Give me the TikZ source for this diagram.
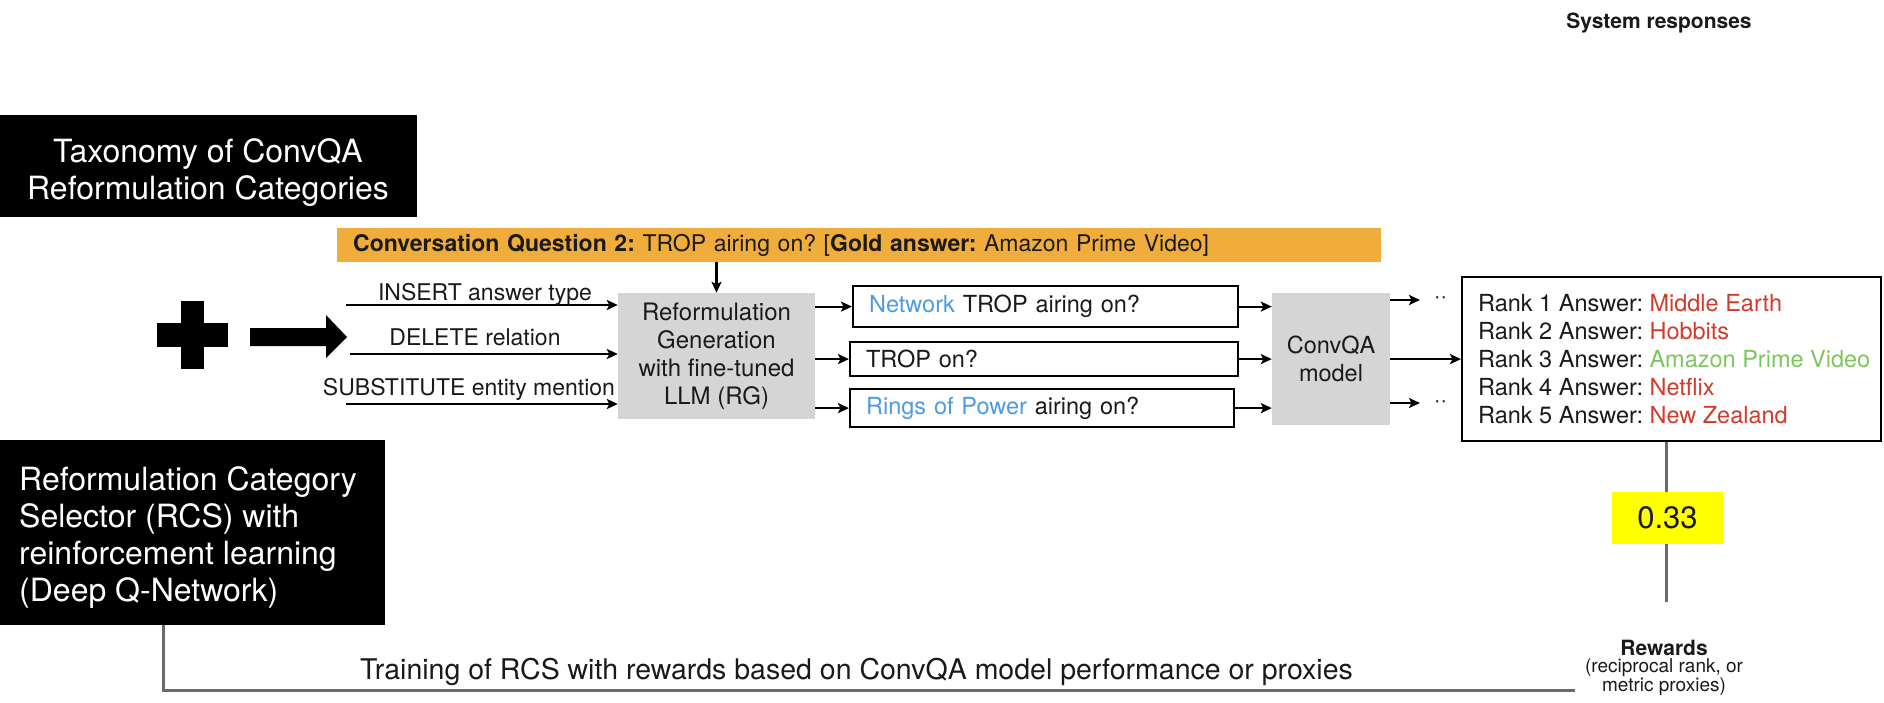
\documentclass[tikz,border=0pt]{standalone}
\usepackage{fontspec}
\setmainfont{TeX Gyre Heros}
\usetikzlibrary{arrows.meta}

\definecolor{barorange}{HTML}{F0AD3C}
\definecolor{boxgray}{HTML}{D5D5D5}
\definecolor{linkgray}{HTML}{6A6A6A}
\definecolor{inkblack}{HTML}{1A1A1A}
\definecolor{hiblue}{HTML}{4E9BDD}
\definecolor{ansred}{HTML}{D23A2A}
\definecolor{ansgreen}{HTML}{7CC65C}
\definecolor{hiyellow}{HTML}{FFFF00}

\newcommand{\fs}[2]{\fontsize{#1}{#2}\selectfont}
\frenchspacing

\begin{document}
\begin{tikzpicture}[x=1pt,y=-1pt,
  every node/.style={inner sep=0pt,text=inkblack},
  arr/.style={line width=2.2pt,draw=black,-{Stealth[length=11pt,width=10pt,inset=2.5pt]}},
  graylink/.style={line width=3pt,draw=linkgray},
  darkbox/.style={fill=black,anchor=north west},
  whitetext/.style={text=white,font=\fs{32}{37}},
  procbox/.style={fill=boxgray,align=center,font=\fs{24}{28}},
  querybox/.style={draw=black,line width=2.2pt,fill=white,anchor=north west,
    inner xsep=16pt,align=left,font=\fs{23.5}{28}},
  label/.style={font=\fs{23}{28},text height=16pt,text depth=0pt},
  dots/.style={font=\fs{23}{28},text height=8pt,text depth=0pt}
]
\useasboundingbox (0,0) rectangle (1884,703);

% header over the answer list
\node[font=\bfseries\fs{21}{26},text height=15pt,text depth=0pt] (sysresp) at (1659,21) {System responses};

% black title panels
\node[darkbox,minimum width=417pt,minimum height=102pt] (tax) at (0,115) {};
\node[whitetext,align=center] (taxlabel) at (208,173) {Taxonomy of ConvQA\\Reformulation Categories};
\node[darkbox,minimum width=385pt,minimum height=185pt] (rcs) at (0,440) {};
\node[whitetext,align=left,anchor=west] (rcslabel) at (19,538)
  {Reformulation Category\\Selector (RCS) with\\reinforcement learning\\(Deep Q-Network)};

% plus sign and block arrow
\fill[black] (181,301) rectangle (204,369);
\fill[black] (157,323) rectangle (228,347);
\fill[black] (250,328) -- (326,328) -- (326,315) -- (347,337) -- (326,358) -- (326,346) -- (250,346) -- cycle;

% conversation question bar
\node[fill=barorange,anchor=north west,minimum width=1044pt,minimum height=34pt,
      inner xsep=16pt,text width=1012pt,align=left,font=\fs{23}{28}] (question) at (337,228)
  {\textbf{Conversation Question 2:} TROP airing on? [\textbf{Gold answer:} Amazon Prime Video]};

% reformulation generator
\node[procbox,minimum width=197pt,minimum height=126pt] (rg) at (716.5,356)
  {Reformulation\\Generation\\with fine-tuned\\LLM (RG)};
\draw[arr] (rg.north |- question.south) -- (rg.north);

% category inputs
\coordinate (in1) at (346,305);
\coordinate (in2) at (350,354);
\coordinate (in3) at (346,404);
\draw[arr] (in1) -- (rg.west |- in1);
\draw[arr] (in2) -- (rg.west |- in2);
\draw[arr] (in3) -- (rg.west |- in3);
\node[label] (ins) at (485,292) {INSERT answer type};
\node[label] (del) at (475,337) {DELETE relation};
\node[label] (sub) at (469,387) {SUBSTITUTE entity mention};

% reformulated questions
\node[querybox,minimum width=385pt,minimum height=41pt,text width=353pt] (q1) at (852,285)
  {\textcolor{hiblue}{Network} TROP airing on?};
\node[querybox,minimum width=388pt,minimum height=34pt,text width=356pt] (q2) at (849,341)
  {TROP on?};
\node[querybox,minimum width=384pt,minimum height=38pt,text width=352pt] (q3) at (849,388)
  {\textcolor{hiblue}{Rings of Power} airing on?};
\draw[arr] (rg.east |- q1.west) -- (q1.west);
\draw[arr] (rg.east |- q2.west) -- (q2.west);
\draw[arr] (rg.east |- q3.west) -- (q3.west);

% QA model
\node[procbox,minimum width=118pt,minimum height=132pt,font=\fs{23.5}{28}] (cqa) at (1331,359)
  {ConvQA\\model};
\draw[arr] (q1.east) -- (cqa.west |- q1.east);
\draw[arr] (q2.east) -- (cqa.west |- q2.east);
\draw[arr] (q3.east) -- (cqa.west |- q3.east);

% ranked answers
\node[draw=black,line width=2.2pt,anchor=north west,minimum width=419pt,minimum height=164pt] (ranks) at (1461,276) {};
\node[align=left,anchor=west,font=\fs{23.5}{28}] (ranklist) at (1478,359)
  {Rank 1 Answer: \textcolor{ansred}{Middle Earth}\\
   Rank 2 Answer: \textcolor{ansred}{Hobbits}\\
   Rank 3 Answer: \textcolor{ansgreen}{Amazon Prime Video}\\
   Rank 4 Answer: \textcolor{ansred}{Netflix}\\
   Rank 5 Answer: \textcolor{ansred}{New Zealand}};

\node[dots,anchor=west] (dtop) at (1434,300) {··};
\node[dots,anchor=west] (dbot) at (1434,403) {··};
\draw[arr] (cqa.east |- dtop) -- ([xshift=-14pt]dtop.west);
\draw[arr] (cqa.east |- dbot) -- ([xshift=-14pt]dbot.west);
\draw[arr] (cqa.east |- q2.east) -- (ranks.west |- q2.east);

% reward signal
\node[fill=hiyellow,minimum width=111pt,minimum height=52pt,font=\fs{31}{36}] (score) at (1667.5,518) {0.33};
\coordinate (rewtop) at (1666,602);
\draw[graylink] (ranks.south -| rewtop) -- (score.north -| rewtop);
\draw[graylink] (score.south -| rewtop) -- (rewtop);
\node[align=center,anchor=north] (reward) at (1664,640)
  {{\bfseries\fs{21}{24}Rewards}\\[2pt]
   {\fs{19}{22}(reciprocal rank, or}\\
   {\fs{19}{22}metric proxies)}};

% training feedback loop
\coordinate (loopcorner) at (163,690);
\coordinate (loopend) at (1575,690);
\draw[graylink] (rcs.south -| loopcorner) -- (loopcorner) -- (loopend);
\node[font=\fs{28.5}{32},text height=20pt,text depth=0pt] (train) at (856.5,669)
  {Training of RCS with rewards based on ConvQA model performance or proxies};

\end{tikzpicture}
\end{document}
